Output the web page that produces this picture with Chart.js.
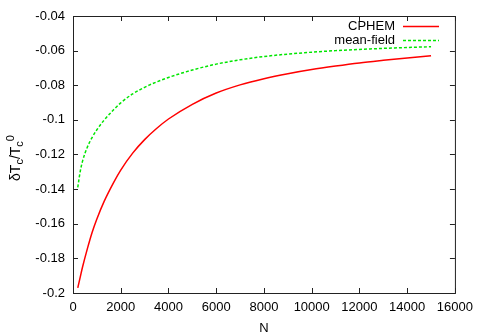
<!DOCTYPE html>
<html>
<head>
<meta charset="utf-8">
<script src="https://cdn.jsdelivr.net/npm/chart.js@4.4.1/dist/chart.umd.min.js"></script>
<style>
  html, body { margin: 0; padding: 0; background: #fff; }
</style>
</head>
<body>
<canvas id="tcChart" width="480" height="336"></canvas>
<script>
// values
const nValues = [200, 300, 400, 600, 800, 1000, 1300, 1700, 2000, 2500, 3000, 3500, 4000,
  5000, 6000, 7000, 8000, 9000, 10000, 11000, 12000, 13000, 14000, 15000];
const cphemShift = [-0.197, -0.191, -0.185, -0.1745, -0.165, -0.1572, -0.1472, -0.1362,
  -0.129, -0.1192, -0.1114, -0.105, -0.0995, -0.091, -0.0845, -0.0798, -0.0762, -0.0733,
  -0.0709, -0.0689, -0.0671, -0.0656, -0.0642, -0.0629];
const meanFieldShift = [-0.139, -0.130, -0.1238, -0.1158, -0.1102, -0.1057, -0.1002,
  -0.0942, -0.0902, -0.0850, -0.0812, -0.0781, -0.0755, -0.0712, -0.0678, -0.0653, -0.0634,
  -0.062, -0.0609, -0.06, -0.0593, -0.0587, -0.0582, -0.0577];
const seriesLabels = ['CPHEM', 'mean-field'];
const xTicks = [0, 2000, 4000, 6000, 8000, 10000, 12000, 14000, 16000];
const yTicks = [-0.2, -0.18, -0.16, -0.14, -0.12, -0.1, -0.08, -0.06, -0.04];

const FONT = '"Liberation Sans", Arial, sans-serif';
Chart.defaults.font.family = FONT;
Chart.defaults.font.size = 13;
Chart.defaults.color = '#000';

const toPoints = ys => nValues.map((n, i) => ({ x: n, y: ys[i] }));

// box border, inward ticks on all four sides, y title with sub/superscripts, legend
const gnuplotFrame = {
  id: 'gnuplotFrame',
  afterDatasetsDraw(chart) {
    const { ctx, chartArea: a } = chart;
    const xs = chart.scales.x, ys = chart.scales.y;
    const len = 5;
    ctx.save();
    ctx.strokeStyle = '#222';
    ctx.lineWidth = 1;
    ctx.strokeRect(a.left + 0.5, a.top + 0.5, a.right - a.left, a.bottom - a.top);
    ctx.beginPath();
    xTicks.forEach(v => {
      const px = Math.round(xs.getPixelForValue(v)) + 0.5;
      ctx.moveTo(px, a.bottom); ctx.lineTo(px, a.bottom - len);
      ctx.moveTo(px, a.top); ctx.lineTo(px, a.top + len);
    });
    yTicks.forEach(v => {
      const py = Math.round(ys.getPixelForValue(v)) + 0.5;
      ctx.moveTo(a.left, py); ctx.lineTo(a.left + len, py);
      ctx.moveTo(a.right, py); ctx.lineTo(a.right - len, py);
    });
    ctx.stroke();

    // legend, gnuplot style: text right-aligned, sample line after it
    ctx.font = '13px ' + FONT;
    ctx.textAlign = 'right';
    ctx.textBaseline = 'middle';
    chart.data.datasets.forEach((ds, i) => {
      const y = 26 + i * 14;
      ctx.fillStyle = '#000';
      ctx.fillText(ds.label, 395, y);
      ctx.strokeStyle = ds.borderColor;
      ctx.lineWidth = ds.borderWidth;
      ctx.setLineDash(ds.borderDash || []);
      ctx.beginPath();
      ctx.moveTo(403, y + 0.5); ctx.lineTo(439, y + 0.5);
      ctx.stroke();
      ctx.setLineDash([]);
    });

    // y axis title: δT_c/T_c^0
    const parts = [
      { t: 'δT', size: 14, dy: 0 },
      { t: 'c', size: 11, dy: 3 },
      { t: '/T', size: 14, dy: 0 },
      { t: 'c', size: 11, dy: 3 },
      { t: '0', size: 11, dy: -6 }
    ];
    ctx.textAlign = 'left';
    ctx.textBaseline = 'alphabetic';
    ctx.fillStyle = '#000';
    let total = 0;
    parts.forEach(p => {
      ctx.font = p.size + 'px ' + FONT;
      p.w = ctx.measureText(p.t).width;
      total += p.w;
    });
    ctx.translate(20, 158);
    ctx.rotate(-Math.PI / 2);
    let x = -total / 2;
    parts.forEach(p => {
      ctx.font = p.size + 'px ' + FONT;
      ctx.fillText(p.t, x, p.dy);
      x += p.w;
    });
    ctx.restore();
  }
};

new Chart(document.getElementById('tcChart'), {
  type: 'line',
  data: {
    datasets: [
      {
        label: seriesLabels[0],
        data: toPoints(cphemShift),
        borderColor: '#ff0000',
        borderWidth: 1.5,
        pointRadius: 0,
        cubicInterpolationMode: 'monotone'
      },
      {
        label: seriesLabels[1],
        data: toPoints(meanFieldShift),
        borderColor: '#00e600',
        borderWidth: 1.5,
        borderDash: [3, 2],
        pointRadius: 0,
        cubicInterpolationMode: 'monotone'
      }
    ]
  },
  options: {
    responsive: false,
    animation: false,
    layout: { padding: { top: 16, right: 24, left: 0, bottom: 0 } },
    plugins: { legend: { display: false }, tooltip: { enabled: false } },
    scales: {
      x: {
        type: 'linear',
        min: 0,
        max: 16000,
        afterBuildTicks: s => { s.ticks = xTicks.map(v => ({ value: v })); },
        afterFit: s => { s.height = 43; },
        grid: { display: false, drawTicks: false },
        border: { display: false },
        ticks: { padding: 7, maxRotation: 0, callback: v => String(v) },
        title: { display: true, text: 'N', padding: { top: 0, bottom: 0 } }
      },
      y: {
        type: 'linear',
        min: -0.2,
        max: -0.04,
        afterBuildTicks: s => { s.ticks = yTicks.map(v => ({ value: v })); },
        afterFit: s => { s.width = 73; },
        grid: { display: false, drawTicks: false },
        border: { display: false },
        ticks: { padding: 8, callback: v => String(+v.toFixed(2)) }
      }
    }
  },
  plugins: [gnuplotFrame]
});
</script>
</body>
</html>
